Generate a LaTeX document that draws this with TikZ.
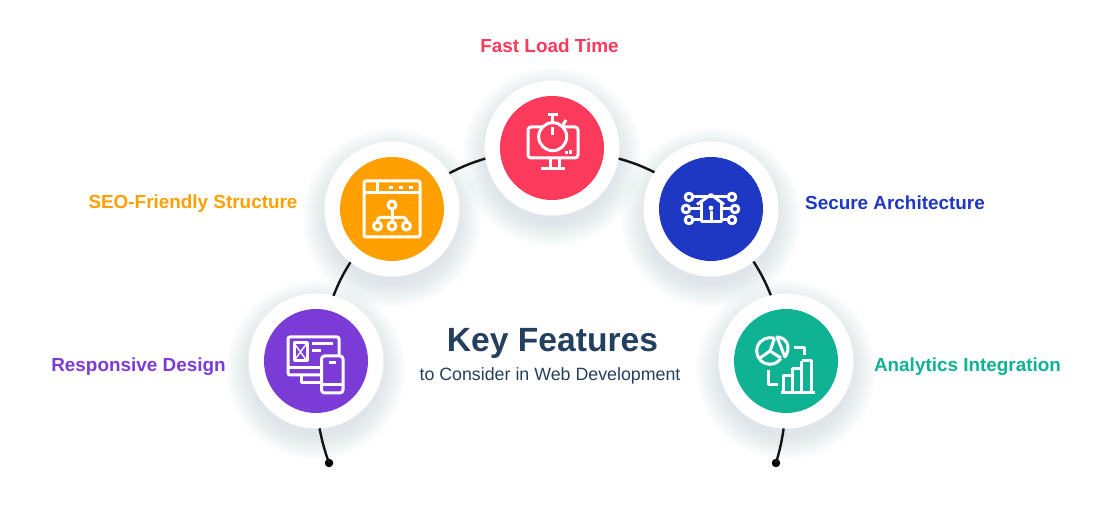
\documentclass[tikz,border=0pt]{standalone}
\usepackage{fontspec}
\setmainfont{Liberation Sans}
\usetikzlibrary{calc}
\definecolor{fastcol}{HTML}{FB3A5C}
\definecolor{seocol}{HTML}{FFA000}
\definecolor{respcol}{HTML}{7B3BD6}
\definecolor{securecol}{HTML}{1F38C4}
\definecolor{analyticscol}{HTML}{0FB293}
\definecolor{titlecol}{HTML}{24405F}
\definecolor{shadowcol}{HTML}{6E93B0}
\def\softshadow(#1,#2){\foreach \r in {66,68,...,90} {\fill[shadowcol,opacity=.014] (#1,#2-9) circle (\r);}}
\tikzset{
	ring/.style={circle,fill=white,minimum size=135pt,inner sep=0pt,outer sep=0pt},
	disc/.style={circle,minimum size=104pt,inner sep=0pt},
	enddot/.style={circle,fill=black,minimum size=8.5pt,inner sep=0pt,outer sep=0pt},
	conn/.style={line width=2.4pt,color=black!92},
	iconline/.style={draw=white,line width=3pt,line join=round},
	feature/.style={font=\bfseries\fontsize{18.9}{22}\selectfont}
}

\begin{document}
\begin{tikzpicture}[x=1pt,y=1pt]
	\useasboundingbox (0,0) rectangle (1105,513);
	\fill[white] (0,0) rectangle (1105,513);

	%%%%% SHADOWS %%%%%
	\softshadow(316,152)
	\softshadow(392,304)
	\softshadow(552,365)
	\softshadow(711,304)
	\softshadow(786,152)

	%%%%% RINGS AND ARC %%%%%
	\node[ring] (resp) at (316,152) {};
	\node[ring] (seo) at (392,304) {};
	\node[ring] (fast) at (552,365) {};
	\node[ring] (secure) at (711,304) {};
	\node[ring] (analytics) at (786,152) {};
	\node[enddot] (leftdot) at (329,50) {};
	\node[enddot] (rightdot) at (776,50) {};

	\draw[conn] (leftdot.center) to[bend left=4] (resp.273);
	\draw[conn] (resp.75) to[bend left=5] (seo.232);
	\draw[conn] (seo.32) to[bend left=5] (fast.189);
	\draw[conn] (fast.351) to[bend left=5] (secure.147);
	\draw[conn] (secure.309) to[bend left=5] (analytics.103);
	\draw[conn] (analytics.268) to[bend left=4] (rightdot.center);

	\node[disc,fill=respcol] (respdisc) at (resp) {};
	\node[disc,fill=seocol] (seodisc) at (seo) {};
	\node[disc,fill=fastcol] (fastdisc) at (fast) {};
	\node[disc,fill=securecol] (securedisc) at (secure) {};
	\node[disc,fill=analyticscol] (analyticsdisc) at (analytics) {};

	%%%%% RESPONSIVE ICON %%%%%
	\begin{scope}[shift={(resp)},iconline]
		\draw[rounded corners=2] (-28,24) rectangle (23,-14);
		\draw (-28,-7) -- (5,-7);
		\draw (-15,-14) -- (-15,-22) -- (5,-22);
		\draw (-22,18) rectangle (-9,0);
		\draw[line width=1.4pt] (-22,18) -- (-9,0) (-9,18) -- (-22,0);
		\draw (-4,17.5) -- (17,17.5);
		\draw (-4,10) -- (5,10);
		\draw[rounded corners=3,fill=respcol] (5.5,5) rectangle (27,-32);
		\draw (5.5,-24) -- (27,-24);
		\draw (13,-1.5) -- (20,-1.5);
	\end{scope}

	%%%%% SEO ICON %%%%%
	\begin{scope}[shift={(seo)},iconline]
		\draw[rounded corners=2] (-28,28) rectangle (28,-28);
		\draw (-28,16) -- (28,16);
		\draw (-15,28) -- (-15,16);
		\draw (-3.5,21.5) -- (1,21.5) (6.5,21.5) -- (11,21.5) (16.5,21.5) -- (21,21.5);
		\draw (0,4) circle (4);
		\draw (0,0) -- (0,-13);
		\draw[rounded corners=3] (-14.5,-13) -- (-14.5,-8.5) -- (14.5,-8.5) -- (14.5,-13);
		\foreach \x in {-14.5,0,14.5} {\draw (\x,-17) circle (4);}
	\end{scope}

	%%%%% FAST ICON %%%%%
	\begin{scope}[shift={(fast)},iconline]
		\draw[rounded corners=3] (-24,21) rectangle (26,-10);
		\draw[fill=fastcol] (0.7,11.3) circle (14);
		\draw (0.7,21) -- (0.7,13);
		\draw (-4,33.5) -- (6,33.5) (0.7,33.5) -- (0.7,25.5);
		\draw (11,23) -- (14,28);
		\draw (-2,-10) -- (-2,-21) (7,-10) -- (7,-21);
		\draw (-11,-21) -- (13,-21);
		\draw (14,-3) -- (14,-6) (18.5,-2) -- (18.5,-6);
	\end{scope}

	%%%%% SECURE ICON %%%%%
	\begin{scope}[shift={(secure)},iconline]
		\draw (-14,4.5) -- (0,14.5) -- (13,4.5);
		\draw (-9.5,7) -- (-9.5,-12.5) -- (10.5,-12.5) -- (10.5,7);
		\fill[white] (0,1) circle (2.4);
		\draw (0,-2) -- (0,-12);
		\foreach \x/\y in {-22/12,-25/0,-22/-11,21/12,24/0,21/-11} {\draw (\x,\y) circle (3.8);}
		\draw (-18,12) -- (0,12) (17,12) -- (0,12);
		\draw (-21,0) -- (-9.5,0) (20,0) -- (10.5,0);
		\draw (-18,-11) -- (-9.5,-11) (17,-11) -- (10.5,-11);
	\end{scope}

	%%%%% ANALYTICS ICON %%%%%
	\begin{scope}[shift={(analytics)},iconline]
		\draw (-16,10) ++(70:13.3) arc (70:325:13.3);
		\draw (-11.5,22.5) -- (-16,10) -- (-5,3);
		\draw (-16,10) -- (-26,3);
		\draw (-9,24) .. controls (0,24) and (6,14) .. (-1,4) -- cycle;
		\draw (7.5,13.7) -- (18.5,13.7) -- (18.5,6);
		\draw (-17.7,-9) -- (-17.7,-24) -- (-7.7,-24);
		\draw (-5.5,-31.3) -- (28.5,-31.3);
		\draw (-2.7,-31.3) -- (-2.7,-15) -- (6.3,-15) -- (6.3,-31.3);
		\draw (6.3,-7.3) -- (15.7,-7.3) -- (15.7,-31.3) (6.3,-15) -- (6.3,-7.3);
		\draw (15.7,0.3) -- (25.7,0.3) -- (25.7,-31.3) (15.7,-7.3) -- (15.7,0.3);
	\end{scope}

	%%%%% LABELS %%%%%
	\node[feature,text=fastcol] (fastlabel) at (549.5,467) {Fast Load Time};
	\node[feature,text=seocol] (seolabel) at (193,309) {SEO-Friendly Structure};
	\node[feature,text=securecol] (securelabel) at (895,310) {Secure Architecture};
	\node[feature,text=respcol] (resplabel) at (138.5,146.5) {Responsive Design};
	\node[feature,text=analyticscol] (analyticslabel) at (967.5,146.5) {Analytics Integration};
	\node[text=titlecol,font=\bfseries\fontsize{33.6}{40}\selectfont] (title) at (552.5,170) {Key Features};
	\node[text=titlecol,font=\fontsize{17.8}{20}\selectfont] (subtitle) at (550,137) {to Consider in Web Development};
\end{tikzpicture}
\end{document}
